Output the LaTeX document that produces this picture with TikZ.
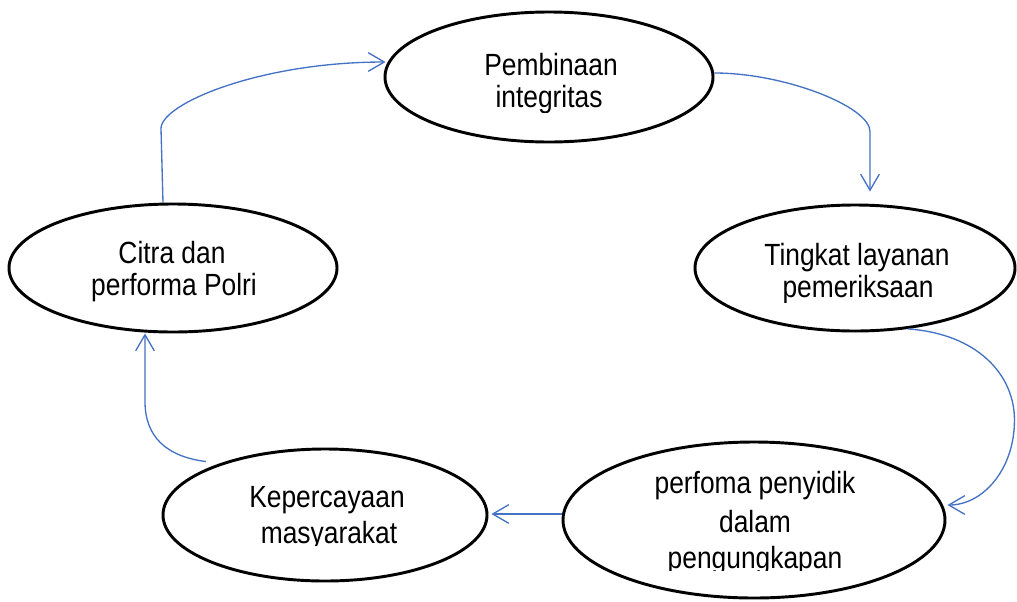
\documentclass[tikz,border=0pt]{standalone}
\usepackage{fontspec}
\setmainfont{Liberation Sans}[FakeStretch=0.86]
\usetikzlibrary{arrows.meta,calc,shapes.geometric}
\definecolor{arrowblue}{RGB}{68,114,196}
\begin{document}
\begin{tikzpicture}[x=0.75pt,y=-0.75pt,
  ell/.style={ellipse,draw=black,line width=2.2pt,inner sep=0pt},
  lbl/.style={anchor=base,inner sep=0pt,font=\fontsize{23pt}{26pt}\selectfont},
  conn/.style={draw=arrowblue,line width=1pt,-{Straight Barb[length=12pt,width=14pt]}}]
\useasboundingbox (0,0) rectangle (1017,601);

% ellipses
\node[ell,minimum width=246pt,minimum height=97.5pt] (p1) at (549,77) {};
\node[ell,minimum width=240pt,minimum height=94.5pt] (p2) at (855,268) {};
\node[ell,minimum width=286.5pt,minimum height=117pt] (p3) at (754,520) {};
\node[ell,minimum width=243pt,minimum height=99pt] (p4) at (325,515) {};
\node[ell,minimum width=246pt,minimum height=96pt] (p5) at (173,268) {};

% texts
\node[lbl] (t1a) at (551,75) {Pembinaan};
\begin{scope}\clip (420,80) rectangle (680,112);
\node[lbl] (t1b) at (549,107) {integritas};\end{scope}

\node[lbl] (t2a) at (857,265) {Tingkat layanan};
\begin{scope}\clip (720,270) rectangle (1000,302);
\node[lbl] (t2b) at (858,297) {pemeriksaan};\end{scope}

\node[lbl] (t3a) at (755,493) {perfoma penyidik};
\node[lbl] (t3b) at (755,532) {dalam};
\begin{scope}\clip (600,540) rectangle (910,570);
\node[lbl] (t3c) at (755,568) {pengungkapan};\end{scope}

\node[lbl] (t4a) at (327,507) {Kepercayaan};
\begin{scope}\clip (200,515) rectangle (460,545);
\node[lbl] (t4b) at (329,543) {masyarakat};\end{scope}

\node[lbl] (t5a) at (172,263) {Citra dan};
\begin{scope}\clip (40,268) rectangle (310,302);
\node[lbl] (t5b) at (174,295) {performa Polri};\end{scope}

% connectors
\draw[conn] ($(p1.east)+(0,-4)$) .. controls +(70,0) and +(0,-25) .. ($(p2.north)+(15,-72)$) -- ($(p2.north)+(15,-12)$);
\coordinate (bmid) at ($(p3.east)+(68,-100)$);
\draw[conn] (p2.-49.5) .. controls +(70,5) and +(0,-45) .. (bmid) .. controls +(0,50) and +(35,0) .. ($(p3.east)+(1,-15)$);
\draw[conn] ($(p3.west)+(0,-6)$) -- ($(p4.east)+(3,-1)$);
\draw[conn] ($(p4.north)+(-119,14)$) .. controls +(-40,-5) and +(0,35) .. ($(p5.south)+(-28,68)$) -- ($(p5.south)+(-28,0)$);
\draw[conn] ($(p5.north)+(-10,0)$) -- ($(p5.north)+(-12,-74)$) .. controls +(0,-25) and +(-125,0) .. ($(p1.west)+(2,-15)$);
\end{tikzpicture}
\end{document}
